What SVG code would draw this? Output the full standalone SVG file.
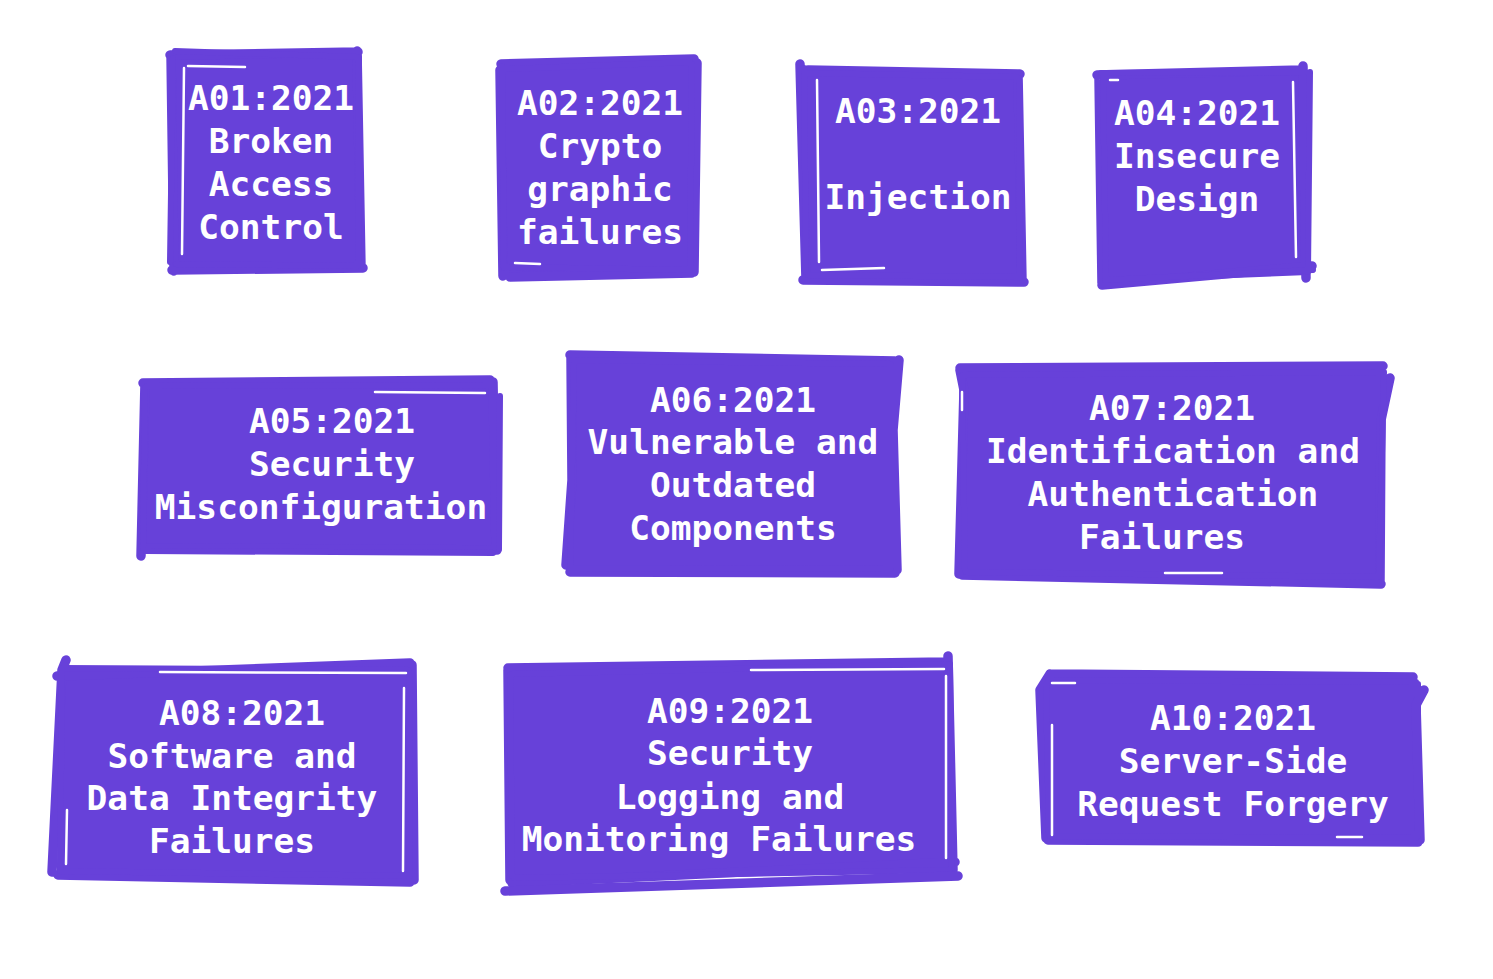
<svg xmlns="http://www.w3.org/2000/svg" width="1493" height="979" viewBox="0 0 1493 979">
<style>
.fill{fill:#6741d9;stroke:none}
.edge{fill:none;stroke:#6741d9;stroke-width:9.5;stroke-linecap:round;stroke-linejoin:round}
.edge2{fill:none;stroke:#6741d9;stroke-width:6;stroke-linecap:round;stroke-linejoin:round}
.gap{fill:none;stroke:#ffffff;stroke-width:2.5;stroke-linecap:round}
.t{font-family:"DejaVu Sans Mono","Liberation Mono",monospace;font-size:34.5px;font-weight:bold;fill:#ffffff;text-anchor:middle}
</style>
<rect x="0" y="0" width="1493" height="979" fill="#ffffff"/>
<g id="connectors"></g>

<g id="A01">
<polygon class="fill" points="172,55 357,53 360,268 174,268"/>
<path class="edge" d="M170,55 L358,52 M357,51 L361,268 M363,268 L172,270 M174,271 L171,55"/>
<path class="edge2" d="M175,51 L356,57 M359,57 L358,266 M356,266 L176,264 M170,262 L173,58"/>
<path class="gap" d="M184,68 L182,254 M188,66 L245,67"/>
<text class="t" x="271" y="109.5">A01:2021</text>
<text class="t" x="271" y="152.5">Broken</text>
<text class="t" x="271" y="195.5">Access</text>
<text class="t" x="271" y="238.5">Control</text>
</g>

<g id="A02">
<polygon class="fill" points="503,66 692,60 694,274 503,274"/>
<path class="edge" d="M501,64 L694,59 M697,63 L694,272 M692,273 L510,277 M503,276 L500,70"/>
<path class="edge2" d="M505,69 L690,62 M692,64 L690,270 M689,270 L505,267 M504,268 L502,66"/>
<path class="gap" d="M515,263 L540,264"/>
<text class="t" x="600" y="114.5">A02:2021</text>
<text class="t" x="600" y="157.5">Crypto</text>
<text class="t" x="600" y="200.5">graphic</text>
<text class="t" x="600" y="243.5">failures</text>
</g>

<g id="A03">
<polygon class="fill" points="803,72 1018,75 1022,280 805,277"/>
<path class="edge" d="M800,64 L806,279 M803,280 L1024,282 M1022,281 L1018,74 M1020,74 L808,70"/>
<path class="edge2" d="M805,73 L1016,77 M1019,78 L1020,278 M1018,277 L808,275 M806,272 L804,68"/>
<path class="gap" d="M817,80 L819,262 M822,270 L884,268"/>
<text class="t" x="918" y="122.5">A03:2021</text>
<text class="t" x="918" y="208.5">Injection</text>
</g>

<g id="A04">
<polygon class="fill" points="1100,75 1303,68 1308,275 1105,283"/>
<path class="edge" d="M1097,75 L1302,70 M1303,66 L1306,278 M1312,266 L1102,285 M1102,283 L1099,78"/>
<path class="edge2" d="M1101,73 L1305,72 M1310,72 L1308,272 M1313,270 L1105,280 M1106,280 L1103,77"/>
<path class="gap" d="M1293,82 L1296,257 M1110,80 L1118,80"/>
<text class="t" x="1197" y="124.5">A04:2021</text>
<text class="t" x="1197" y="167.5">Insecure</text>
<text class="t" x="1197" y="210.5">Design</text>
</g>

<g id="A05">
<polygon class="fill" points="145,383 492,381 497,550 143,550"/>
<path class="edge" d="M143,383 L490,380 M493,382 L496,550 M497,550 L145,548 M141,556 L145,383"/>
<path class="edge2" d="M147,386 L494,385 M500,396 L499,549 M493,553 L146,551 M143,548 L145,388"/>
<path class="gap" d="M375,392 L485,393"/>
<text class="t" x="332" y="432.5">A05:2021</text>
<text class="t" x="332" y="475.5">Security</text>
<text class="t" x="321" y="518.5">Misconfiguration</text>
</g>

<g id="A06">
<polygon class="fill" points="570,357 895,362 895,572 568,570"/>
<path class="edge" d="M570,355 L895,361 M899,360 L893,430 L897,570 M895,573 L570,572 M566,565 L572,480 L571,357"/>
<path class="edge2" d="M572,360 L890,364 M891,365 L891,568 M890,569 L570,568 M570,566 L574,362"/>
<text class="t" x="733" y="411.5">A06:2021</text>
<text class="t" x="733" y="453.5">Vulnerable and</text>
<text class="t" x="733" y="496.5">Outdated</text>
<text class="t" x="733" y="539.5">Components</text>
</g>

<g id="A07">
<polygon class="fill" points="960,372 1383,370 1380,580 962,575"/>
<path class="edge" d="M960,368 L1383,366 M1390,378 L1381,420 L1380,582 M1381,584 L962,575 M959,574 L964,390 L960,370"/>
<path class="edge2" d="M963,375 L1380,372 M1384,372 L1379,575 M1378,577 L966,572 M965,570 L962,376"/>
<path class="gap" d="M962,392 L962,410 M1165,573 L1222,573"/>
<text class="t" x="1172" y="419.5">A07:2021</text>
<text class="t" x="1173" y="462.5">Identification and</text>
<text class="t" x="1173" y="505.5">Authentication</text>
<text class="t" x="1162" y="548.5">Failures</text>
</g>

<g id="A08">
<polygon class="fill" points="60,670 410,665 412,878 57,873"/>
<path class="edge" d="M57,676 L410,663 M412,665 L414,880 M410,882 L58,875 M52,872 L62,670 L66,660"/>
<path class="edge2" d="M62,668 L408,670 M409,672 L410,876 M409,876 L60,871 M60,870 L62,672"/>
<path class="gap" d="M160,672 L406,673 M404,688 L403,871 M67,810 L66,864"/>
<text class="t" x="242" y="724.5">A08:2021</text>
<text class="t" x="232" y="767.5">Software and</text>
<text class="t" x="232" y="809.5">Data Integrity</text>
<text class="t" x="232" y="852.5">Failures</text>
</g>

<g id="A09">
<polygon class="fill" points="508,672 948,660 955,870 510,880"/>
<path class="edge" d="M508,668 L947,662 M948,656 L953,870 M955,862 L512,883 M510,880 L508,670"/>
<path class="edge2" d="M512,674 L946,664 M950,664 L952,868 M950,870 L514,878 M512,876 L510,675"/>
<path class="edge" d="M505,891 L958,876"/>
<path class="gap" d="M751,670 L944,669 M946,676 L946,858"/>
<text class="t" x="730" y="722.5">A09:2021</text>
<text class="t" x="730" y="764.5">Security</text>
<text class="t" x="730" y="808.5">Logging and</text>
<text class="t" x="719" y="850.5">Monitoring Failures</text>
</g>

<g id="A10">
<polygon class="fill" points="1045,678 1418,680 1420,840 1048,840"/>
<path class="edge" d="M1050,674 L1413,677 M1424,690 L1416,705 L1420,840 M1418,842 L1048,840 M1046,838 L1040,690 L1050,674"/>
<path class="edge2" d="M1048,680 L1416,682 M1418,684 L1418,836 M1416,838 L1050,836 M1049,834 L1046,684"/>
<path class="gap" d="M1052,725 L1052,835 M1052,683 L1075,683 M1337,837 L1362,837"/>
<text class="t" x="1233" y="729.5">A10:2021</text>
<text class="t" x="1233" y="772.5">Server-Side</text>
<text class="t" x="1233" y="815.5">Request Forgery</text>
</g>
</svg>
